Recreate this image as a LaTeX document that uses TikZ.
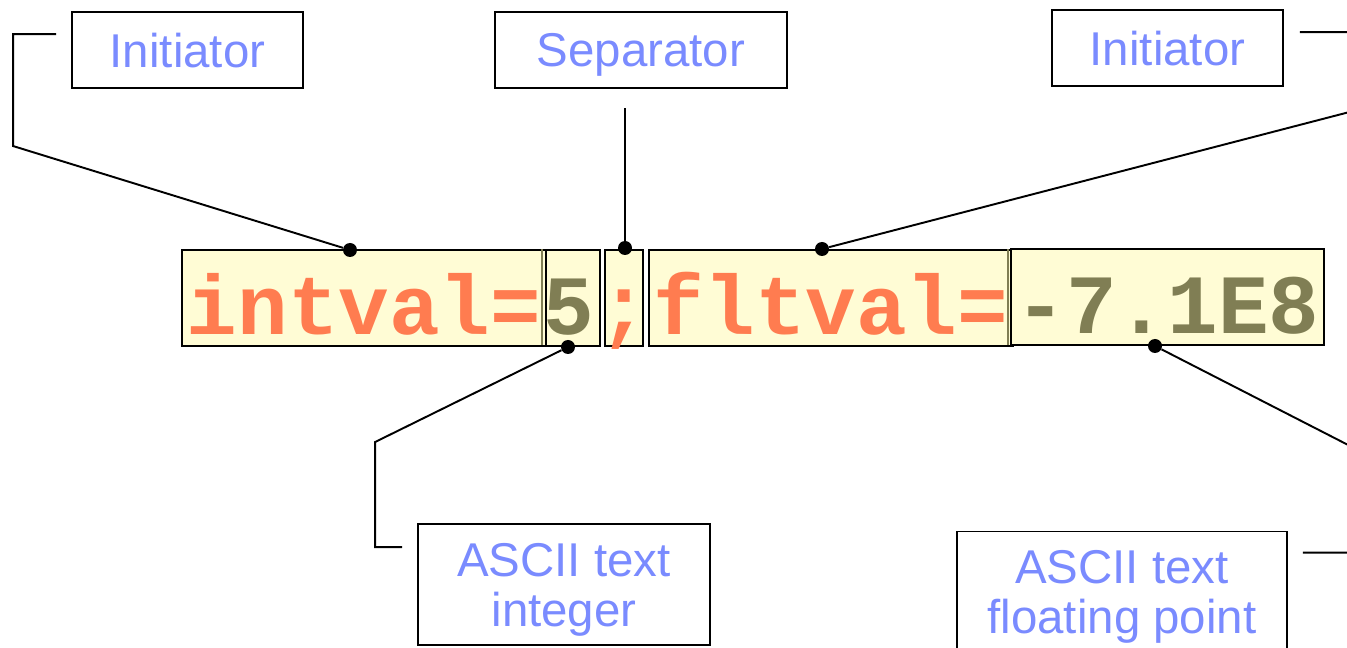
\documentclass[tikz,border=0pt]{standalone}
\usepackage{fontspec}
\setmainfont{Liberation Sans}
\newfontfamily\codefont{Liberation Mono}
\usetikzlibrary{positioning}
\definecolor{labelblue}{RGB}{122,139,255}
\definecolor{keyorange}{RGB}{255,124,80}
\definecolor{valolive}{RGB}{128,126,84}
\definecolor{fieldfill}{RGB}{255,252,213}

\tikzset{
	label/.style={draw=black,line width=1.1pt,fill=white,inner sep=0pt,align=center,
		text depth=0pt,text=labelblue,font=\fontsize{27}{28.5}\selectfont},
	field/.style={draw=black,line width=1.1pt,fill=fieldfill,inner sep=0pt,
		minimum height=19.2mm,text height=17mm,text depth=2.2mm,
		font=\codefont\bfseries\fontsize{48}{48}\selectfont},
	dot/.style={circle,fill=black,inner sep=0pt,minimum size=2.8mm},
	wire/.style={black,line width=1.1pt}
}

\begin{document}
\begin{tikzpicture}[x=0.02cm,y=-0.02cm]
	\useasboundingbox (0,0) rectangle (1347,648);

	% the coded line
	\node[field,minimum width=72.8mm,text=keyorange] (intval) at (364,298) {intval=};
	\node[field,minimum width=10.8mm,text=valolive] (intnum) at (573,298) {\makebox[0pt]{\hspace*{-1.6mm}5}};
	\node[field,minimum width=7.6mm,text=keyorange] (semi) at (624,298) {\makebox[0pt]{;}};
	\node[field,minimum width=72.8mm,text=keyorange] (fltval) at (831,298) {fltval=};
	\node[field,minimum width=62.6mm,text=valolive] (fltnum) at (1167.5,297) {-7.1E8};
	\draw[valolive,line width=0.8pt] (intnum.north west) ++(-3,0) -- ++(0,96);
	\draw[valolive,line width=0.8pt] (fltnum.north west) ++(-2,1) -- ++(0,96);

	% labels
	\node[label,minimum width=46.2mm,minimum height=15.2mm] (init1) at (187.5,50) {Initiator};
	\node[label,minimum width=58.4mm,minimum height=15.2mm] (sep) at (641,50) {Separator};
	\node[label,minimum width=46.2mm,minimum height=15.2mm] (init2) at (1167.5,48) {Initiator};
	\node[label,minimum width=58.4mm,minimum height=24.2mm] (asciiint) at (564,584.5) {ASCII text\\integer};
	\node[label,minimum width=66mm,minimum height=24.2mm] (asciiflt) at (1122,592) {ASCII text\\floating point};

	% pointers
	\node[dot] (d1) at (350,250) {};
	\node[dot] (d2) at (625,248) {};
	\node[dot] (d3) at (822,249) {};
	\node[dot] (d4) at (568,347) {};
	\node[dot] (d5) at (1155,346) {};

	\draw[wire] (init1.north west) ++(-15,23) -- ++(-43,0) -- ++(0,112) -- (d1);
	\draw[wire] (d2) -- ++(0,-140);
	\draw[wire] (init2.north east) ++(16,23) -- ++(61,0) -- ++(0,77) -- (d3);
	\draw[wire] (asciiint.north west) ++(-15,24) -- ++(-27,0) -- ++(0,-105) -- (d4);
	\draw[wire] (asciiflt.north east) ++(15,22) -- ++(58,0) -- ++(0,-101) -- (d5);
\end{tikzpicture}
\end{document}
